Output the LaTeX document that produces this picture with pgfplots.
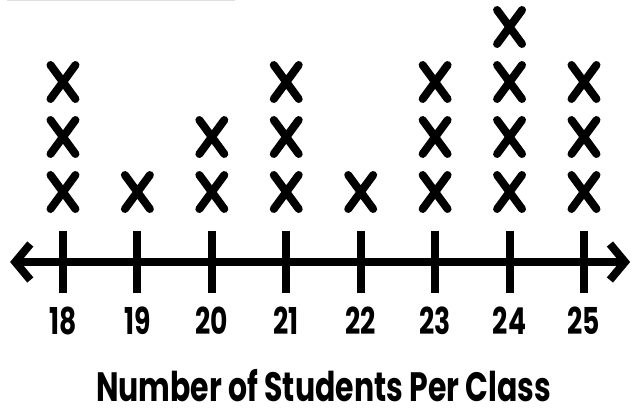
\documentclass[border=0pt]{standalone}
\usepackage{pgfplots}
\pgfplotsset{compat=1.18}
\usetikzlibrary{arrows.meta}
\usepackage{fontspec}
\newfontfamily\labfont{Poppins}[FakeStretch=0.73]
\newfontfamily\digfont{Poppins}[FakeStretch=0.72]
\begin{document}
\begin{tikzpicture}
\begin{axis}[
  scale only axis, width=634bp, height=262bp,
  xmin=17.154, xmax=25.672, ymin=-0.2727, ymax=4.4909,
  axis line style={draw=none},
  ytick=\empty,
  xtick={18,19,20,21,22,23,24,25},
  xtick pos=bottom,
  tick align=center,
  major tick length=61bp,
  xtick style={line width=8bp, black},
  /pgf/number format/assume math mode=true,
  xticklabel style={anchor=base, yshift=-42bp, font=\digfont\bfseries\fontsize{37bp}{40bp}\selectfont},
  xlabel={Number of Students Per Class},
  xlabel style={at={(axis description cs:0.5103,0)}, anchor=base, yshift=-139bp, inner sep=0pt, text depth=0pt, font=\labfont\bfseries\fontsize{41bp}{45bp}\selectfont},
  clip=false,
]
\addplot[line width=8bp, black, {Straight Barb[length=15bp,width=36bp]}-{Straight Barb[length=15bp,width=36bp]}] coordinates {(17.29,-0.2727) (25.62,-0.2727)};
\addplot[line width=1.5bp, black!12] coordinates {(17.248,4.48) (20.311,4.48)};
\addplot[only marks, mark=x, mark size=24bp, mark options={line width=8bp, line cap=round, xscale=0.735, black}] coordinates {
(18,1) (18,2) (18,3)
(19,1)
(20,1) (20,2)
(21,1) (21,2) (21,3)
(22,1)
(23,1) (23,2) (23,3)
(24,1) (24,2) (24,3) (24,4)
(25,1) (25,2) (25,3)
};
\end{axis}
\pgfresetboundingbox
\path (current axis.south west) ++(0,-147bp) rectangle (current axis.north east);
\end{tikzpicture}
\end{document}
